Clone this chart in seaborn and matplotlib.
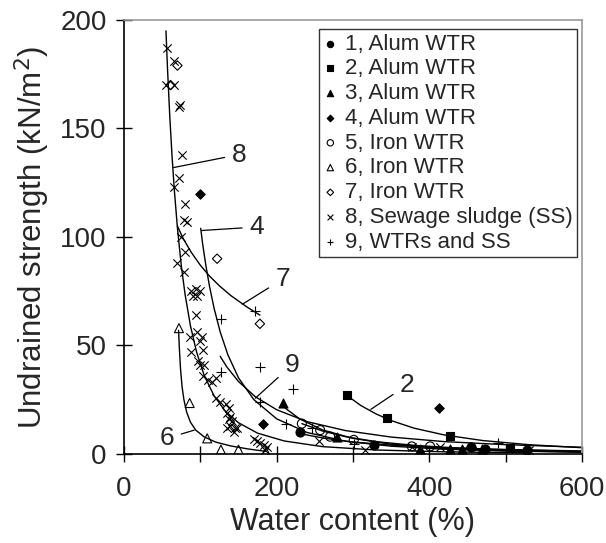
import matplotlib
matplotlib.use("Agg")
import matplotlib.pyplot as plt
import seaborn as sns
import pandas as pd
import numpy as np

# measured points, water content (%) vs undrained strength (kN/m2)
s1_x = [230, 327, 455, 473, 528]
s1_y = [10, 4, 3, 2.5, 2]
s2_x = [292, 344, 427, 506]
s2_y = [27, 16.5, 8.3, 2.6]
s3_x = [208, 279, 388, 427, 443, 469]
s3_y = [23.5, 8, 2.2, 2.2, 2.2, 2.5]
s4_x = [100, 182, 413, 455]
s4_y = [120, 14, 21, 3]
s5_x = [233, 257, 270, 301, 377, 401]
s5_y = [14, 11, 8, 6.5, 3.5, 3.5]
s6_x = [72, 86, 109, 127, 150, 186]
s6_y = [58, 23.5, 7.2, 2, 2, 1]
s7_x = [61, 70, 122, 178]
s7_y = [170, 179, 90, 60]
s8_x = [56, 65, 55, 66, 72, 73, 76, 72, 66, 80, 78, 83, 75, 80, 70, 79,
        88, 94, 99, 90, 96, 94, 87, 96, 102, 100, 104, 88, 97, 100, 105,
        104, 110, 120, 115, 120, 126, 133, 137, 135, 139, 137, 142, 139,
        146, 144, 148, 135, 170, 174, 178, 183, 187, 185, 255, 316, 377,
        414, 531]
s8_y = [187, 181, 170, 170, 160, 161, 138, 127, 123, 115, 108, 107, 100,
        93, 88, 84, 75, 76, 75, 73, 73, 64, 54, 56, 54, 52, 48, 47, 43, 41,
        41, 36, 34, 35, 33, 26, 24, 23, 21, 19, 17, 16, 15, 13, 12, 10, 12,
        12, 7, 6, 5, 4, 3, 2, 6, 2, 3, 3, 2]
s9_x = [127, 127, 171, 178, 178, 212, 222, 246, 301, 490]
s9_y = [62, 38, 66, 40, 24, 14, 30, 12, 4.5, 5]

labels = ["1, Alum WTR", "2, Alum WTR", "3, Alum WTR", "4, Alum WTR",
          "5, Iron WTR", "6, Iron WTR", "7, Iron WTR",
          "8, Sewage sludge (SS)", "9, WTRs and SS"]

# fitted trend curves
c1_x = [229, 260, 300, 350, 410, 480, 600]
c1_y = [9.5, 7.4, 5.5, 4.1, 3.0, 2.2, 1.4]
c2_x = [292, 310, 330, 350, 380, 420, 470, 530, 600]
c2_y = [27, 22.4, 18.5, 15.4, 11.9, 8.75, 6.2, 4.3, 2.9]
c3_x = [208, 230, 260, 300, 350, 420, 500, 600]
c3_y = [22, 16.2, 11.1, 7.2, 4.5, 2.6, 1.5, 0.9]
c4_x = [100.5, 103, 107, 112, 118, 126, 136, 150, 170, 200, 240, 290, 350, 420, 500, 600]
c4_y = [104, 96.9, 87.5, 77.3, 67.2, 56.3, 45.8, 35.1, 25.1, 16.2, 9.9, 5.9, 3.6, 2.2, 1.4, 0.8]
c5_x = [233, 260, 290, 330, 380, 430, 500, 600]
c5_y = [14, 10.6, 8.0, 5.7, 4.0, 2.9, 2.0, 1.2]
c6_x = [71.5, 72.5, 74, 76, 78.5, 82, 87, 94, 105, 120, 140, 163, 186]
c6_y = [57, 49, 39.5, 31.3, 25, 19.4, 14.7, 11, 7.9, 5.5, 3.7, 2.3, 1.2]
c7_x = [70, 78, 88, 100, 112, 125, 140, 160, 178]
c7_y = [105, 99, 93, 87, 82, 77.5, 73, 68, 64]
c8_x = [55, 57, 60, 63, 66, 70, 75, 80, 87, 95, 105, 118, 133, 150, 175, 210, 260, 330, 420, 530]
c8_y = [195, 177.7, 155.5, 137, 121.4, 104.2, 87, 73.6, 59.2, 47.1, 36.3, 26.8, 19.6,
        14.4, 9.6, 6.0, 3.4, 1.85, 1.0, 0.55]
c9_x = [126, 135, 150, 172, 200, 240, 290, 350, 420, 500, 600]
c9_y = [45, 40, 33.4, 26.4, 20.4, 14.9, 10.8, 7.8, 5.7, 4.3, 3.1]

# curve tags: text, point on curve, text position
tag_text = ["8", "4", "7", "9", "6", "2"]
tag_at = [(65, 132), (102, 103), (155, 69), (172, 25.7), (92, 11), (323.5, 20.6)]
tag_pos = [(151, 138), (174, 104.6), (208, 80.6), (220, 41), (56, 7.2), (371, 31.8)]

sns.set_style("white")
plt.rcParams['font.family'] = ['Liberation Sans', 'DejaVu Sans']

fig, ax = plt.subplots(figsize=(6.06, 5.43), dpi=100)
fig.subplots_adjust(left=0.2046, right=0.9604, top=0.9632, bottom=0.1639)

series = [
    (s1_x, s1_y, "o", "k", 6.5),
    (s2_x, s2_y, "s", "k", 6.0),
    (s3_x, s3_y, "^", "k", 6.5),
    (s4_x, s4_y, "D", "k", 4.8),
    (s5_x, s5_y, "o", "none", 6.5),
    (s6_x, s6_y, "^", "none", 6.5),
    (s7_x, s7_y, "D", "none", 4.8),
    (s8_x, s8_y, "x", "k", 6.0),
    (s9_x, s9_y, "+", "k", 7.0),
]
for (xs, ys, m, fc, ms), lab in zip(series, labels):
    df = pd.DataFrame({"w": xs, "su": ys})
    sns.scatterplot(data=df, x="w", y="su", marker=m, s=ms ** 2,
                    facecolor=fc, edgecolor="k", linewidth=0.8,
                    label=lab, ax=ax, zorder=3)

curves = [(c1_x, c1_y), (c2_x, c2_y), (c3_x, c3_y), (c4_x, c4_y), (c5_x, c5_y),
          (c6_x, c6_y), (c7_x, c7_y), (c8_x, c8_y), (c9_x, c9_y)]
for cx, cy in curves:
    ax.plot(cx, cy, color="k", lw=1.0, zorder=2)

for t, p, q in zip(tag_text, tag_at, tag_pos):
    ax.annotate(t, xy=p, xytext=q, ha="center", va="center", fontsize=19,
                arrowprops=dict(arrowstyle="-", color="k", lw=0.9,
                                shrinkA=3, shrinkB=0))

ax.set_xlim(0, 600)
ax.set_ylim(0, 200)
ax.set_xticks([0, 200, 400, 600])
ax.set_xticks([100, 300, 500], minor=True)
ax.set_yticks([0, 50, 100, 150, 200])
ax.tick_params(which="both", direction="inout", length=11, width=1.0,
               labelsize=20, color="k", bottom=True, left=True)
ax.tick_params(axis="x", pad=10)
ax.tick_params(axis="y", pad=7)
ax.set_xlabel("Water content (%)", fontsize=22, labelpad=4)
ax.set_ylabel("Undrained strength (kN/m$^2$)", fontsize=22.5, labelpad=6)

for side in ["left", "bottom"]:
    ax.spines[side].set_color("k")
    ax.spines[side].set_linewidth(1.2)
for side in ["top", "right"]:
    ax.spines[side].set_color("#999999")
    ax.spines[side].set_linewidth(1.2)

leg = ax.legend(loc="upper right", bbox_to_anchor=(0.989, 0.979), borderaxespad=0,
                fontsize=16, frameon=True, fancybox=False, edgecolor="k",
                handletextpad=0.35, handlelength=0.6, markerscale=0.7,
                labelspacing=0.17, borderpad=0.2)
leg.get_frame().set_linewidth(1.0)

plt.savefig("out.png", dpi=100)
